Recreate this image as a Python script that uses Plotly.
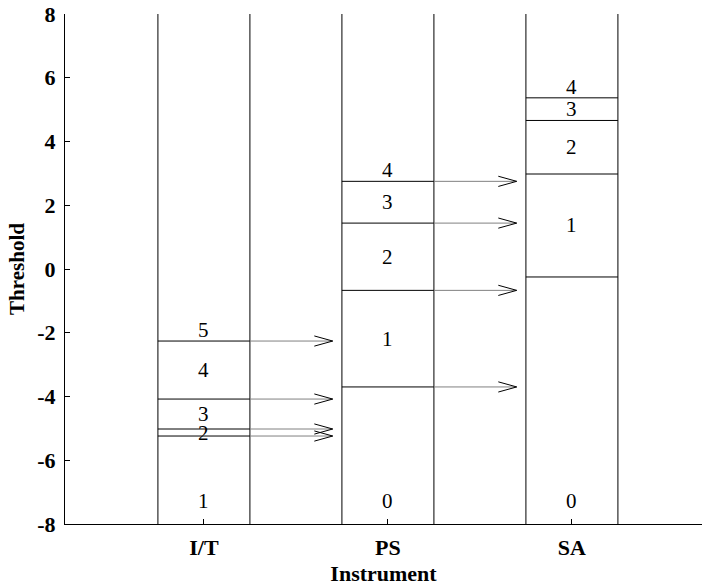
import plotly.graph_objects as go

categories = ["I/T", "PS", "SA"]
cat_pos = [1, 2, 3]
it_thresholds = [-5.24, -5.02, -4.08, -2.26]
ps_thresholds = [-3.70, -0.67, 1.44, 2.75]
sa_thresholds = [-0.25, 2.98, 4.66, 5.37]
it_labels = ["1", "2", "3", "4", "5"]
ps_labels = ["0", "1", "2", "3", "4"]
sa_labels = ["0", "1", "2", "3", "4"]
y_ticks = [8, 6, 4, 2, 0, -2, -4, -6, -8]

thresholds = [it_thresholds, ps_thresholds, sa_thresholds]
labels = [it_labels, ps_labels, sa_labels]

HALF = 0.25
YMIN, YMAX = -8, 8
FONT = "Liberation Serif"

fig = go.Figure()

# columns
for c in cat_pos:
    for xe in (c - HALF, c + HALF):
        fig.add_trace(go.Scatter(x=[xe, xe], y=[YMIN, YMAX], mode="lines",
                                 line=dict(color="black", width=1), hoverinfo="skip"))

# threshold lines
for c, th in zip(cat_pos, thresholds):
    xs, ys = [], []
    for t in th:
        xs += [c - HALF, c + HALF, None]
        ys += [t, t, None]
    fig.add_trace(go.Scatter(x=xs, y=ys, mode="lines",
                             line=dict(color="black", width=1), hoverinfo="skip"))

# arrows (shaft + open head) from I/T and PS to next column
HEAD_DX, HEAD_DY, GAP = 0.1, 0.16, 0.3
for i in range(2):
    c = cat_pos[i]
    tip = cat_pos[i + 1] - GAP
    sx, sy, hx, hy = [], [], [], []
    for t in thresholds[i]:
        sx += [c + HALF, tip, None]
        sy += [t, t, None]
        hx += [tip - HEAD_DX, tip, tip - HEAD_DX, None]
        hy += [t + HEAD_DY, t, t - HEAD_DY, None]
    fig.add_trace(go.Scatter(x=sx, y=sy, mode="lines",
                             line=dict(color="#808080", width=1), hoverinfo="skip"))
    fig.add_trace(go.Scatter(x=hx, y=hy, mode="lines",
                             line=dict(color="black", width=1), hoverinfo="skip"))

# category labels inside columns
lab_font = dict(family=FONT, size=21, color="black")
for c, th, lb in zip(cat_pos, thresholds, labels):
    fig.add_annotation(x=c, y=YMIN, text=lb[0], showarrow=False, yanchor="bottom",
                       yshift=9, font=lab_font)
    for k in range(1, len(th)):
        fig.add_annotation(x=c, y=(th[k - 1] + th[k]) / 2, text=lb[k], showarrow=False,
                           yanchor="middle", font=lab_font)
    fig.add_annotation(x=c, y=th[-1], text=lb[-1], showarrow=False, yanchor="bottom",
                       yshift=-3, font=lab_font)

fig.update_layout(
    width=702, height=586,
    margin=dict(l=65, r=0, t=14, b=62),
    plot_bgcolor="white", paper_bgcolor="white",
    showlegend=False,
    font=dict(family=FONT, color="black"),
    xaxis=dict(range=[0.245, 3.707], tickvals=cat_pos, ticktext=categories,
               ticks="inside", ticklen=5, tickcolor="black",
               showline=True, linecolor="black", linewidth=1,
               showgrid=False, zeroline=False, ticklabelstandoff=4,
               tickfont=dict(family=FONT, size=22, color="black", weight="bold"),
               title=dict(text="<b>Instrument</b>", font=dict(family=FONT, size=22), standoff=8)),
    yaxis=dict(range=[YMIN, YMAX], tickvals=y_ticks, ticktext=[str(v) for v in y_ticks],
               ticks="inside", ticklen=5, tickcolor="black",
               showline=True, linecolor="black", linewidth=1,
               showgrid=False, zeroline=False, ticklabelstandoff=4,
               tickfont=dict(family=FONT, size=22, color="black", weight="bold"),
               title=dict(text="<b>Threshold</b>", font=dict(family=FONT, size=21), standoff=6)),
)

fig.write_html("out.html")
